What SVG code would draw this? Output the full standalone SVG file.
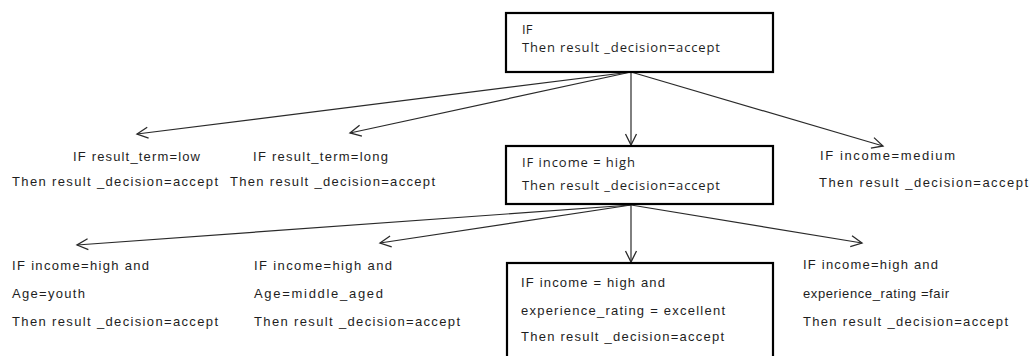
<svg xmlns="http://www.w3.org/2000/svg" width="1029" height="356" viewBox="0 0 1029 356">
<style>
  .box { fill: #ffffff; stroke: #000000; stroke-width: 2.2; }
  .t { font-family: "Liberation Sans", Arial, sans-serif; font-size: 13px; fill: #1e1e1e; }
  .o { font-family: "Open Sans", "Noto Sans", sans-serif; font-size: 13px; fill: #1e1e1e; }
  .c { stroke: #2a2a2a; stroke-width: 1.2; fill: none; marker-end: url(#arr); }
</style>
<defs>
  <marker id="arr" markerUnits="userSpaceOnUse" markerWidth="14" markerHeight="14" viewBox="0 0 14 14" refX="12" refY="7" orient="auto">
    <path d="M1,1.5 L12,7 L1,12.5" fill="none" stroke="#2a2a2a" stroke-width="1.3"/>
  </marker>
</defs>
<rect width="1029" height="356" fill="#ffffff"/>
<g id="connectors">
  <line class="c" x1="631" y1="72" x2="137" y2="134"/>
  <line class="c" x1="631" y1="72" x2="350" y2="133"/>
  <line class="c" x1="631" y1="72" x2="631" y2="145"/>
  <line class="c" x1="631" y1="72" x2="883" y2="146"/>
  <line class="c" x1="631" y1="205" x2="77" y2="245"/>
  <line class="c" x1="631" y1="205" x2="380" y2="243"/>
  <line class="c" x1="631" y1="205" x2="631" y2="262"/>
  <line class="c" x1="631" y1="205" x2="862" y2="243"/>
</g>
<g id="root">
  <rect class="box" x="506" y="13" width="267" height="59"/>
  <text class="o" x="522" y="34">IF</text>
  <text class="o" x="522" y="52" textLength="198" lengthAdjust="spacing">Then result _decision=accept</text>
</g>
<g id="term-low">
  <text class="t" x="73" y="161" textLength="127" lengthAdjust="spacing">IF result_term=low</text>
  <text class="t" x="12" y="186" textLength="206" lengthAdjust="spacing">Then result _decision=accept</text>
</g>
<g id="term-long">
  <text class="t" x="253" y="161" textLength="135" lengthAdjust="spacing">IF result_term=long</text>
  <text class="t" x="230" y="186" textLength="205" lengthAdjust="spacing">Then result _decision=accept</text>
</g>
<g id="income-high">
  <rect class="box" x="506" y="146" width="267" height="58"/>
  <text class="o" x="522" y="167" textLength="113" lengthAdjust="spacing">IF income = high</text>
  <text class="o" x="522" y="190" textLength="198" lengthAdjust="spacing">Then result _decision=accept</text>
</g>
<g id="income-medium">
  <text class="t" x="820" y="160" textLength="135" lengthAdjust="spacing">IF income=medium</text>
  <text class="t" x="819" y="187" textLength="209" lengthAdjust="spacing">Then result _decision=accept</text>
</g>
<g id="age-youth">
  <text class="t" x="12" y="270" textLength="137" lengthAdjust="spacing">IF income=high and</text>
  <text class="t" x="12" y="298" textLength="73" lengthAdjust="spacing">Age=youth</text>
  <text class="t" x="12" y="326" textLength="206" lengthAdjust="spacing">Then result _decision=accept</text>
</g>
<g id="age-middle">
  <text class="t" x="254" y="270" textLength="138" lengthAdjust="spacing">IF income=high and</text>
  <text class="t" x="254" y="298" textLength="129" lengthAdjust="spacing">Age=middle_aged</text>
  <text class="t" x="254" y="326" textLength="206" lengthAdjust="spacing">Then result _decision=accept</text>
</g>
<g id="exp-excellent">
  <rect class="box" x="507" y="263" width="266" height="100"/>
  <text class="t" x="521" y="287" textLength="144" lengthAdjust="spacing">IF income = high and</text>
  <text class="t" x="521" y="315" textLength="204" lengthAdjust="spacing">experience_rating = excellent</text>
  <text class="t" x="521" y="341" textLength="203" lengthAdjust="spacing">Then result _decision=accept</text>
</g>
<g id="exp-fair">
  <text class="t" x="803" y="269" textLength="135" lengthAdjust="spacing">IF income=high and</text>
  <text class="t" x="803" y="298" textLength="146" lengthAdjust="spacing">experience_rating =fair</text>
  <text class="t" x="803" y="326" textLength="205" lengthAdjust="spacing">Then result _decision=accept</text>
</g>
</svg>
